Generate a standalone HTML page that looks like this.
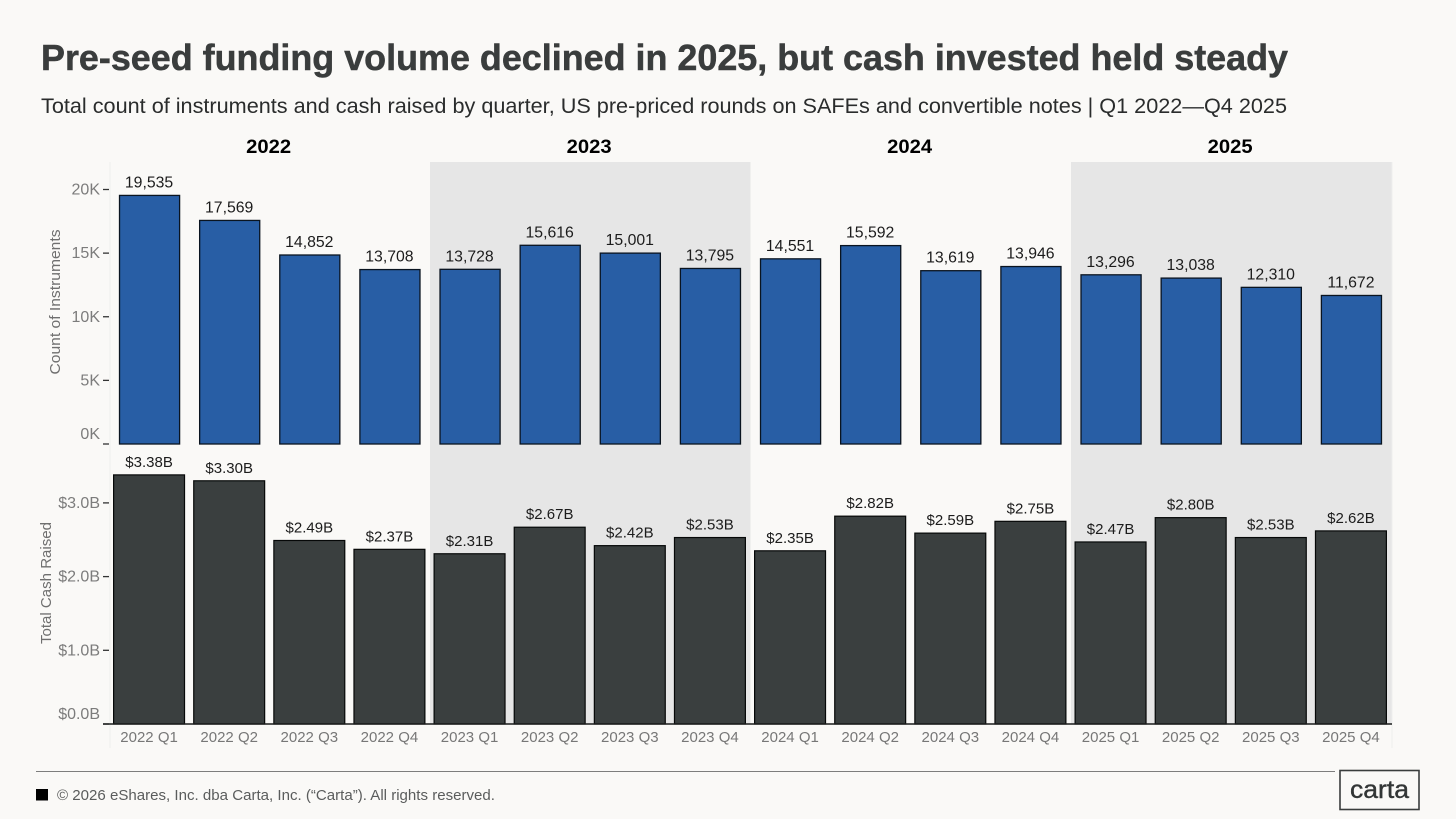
<!DOCTYPE html>
<html lang="en">
<head>
<meta charset="utf-8">
<title>Pre-seed funding volume</title>
<style>
html,body{margin:0;padding:0;background:#faf9f7;width:1456px;height:819px;overflow:hidden}
svg{display:block;font-family:"Liberation Sans",sans-serif}
</style>
</head>
<body>
<svg id="chart" width="1456" height="819" viewBox="0 0 1456 819" xmlns="http://www.w3.org/2000/svg">
<rect x="0" y="0" width="1456" height="819" fill="#faf9f7"/>
<text x="41" y="70" font-size="36" font-weight="700" fill="#3a3d3d" stroke="#3a3d3d" stroke-width="0.5" textLength="1247" lengthAdjust="spacingAndGlyphs">Pre-seed funding volume declined in 2025, but cash invested held steady</text>
<text x="41" y="113" font-size="21" fill="#2a2c2c" textLength="1246" lengthAdjust="spacingAndGlyphs">Total count of instruments and cash raised by quarter, US pre-priced rounds on SAFEs and convertible notes | Q1 2022—Q4 2025</text>
<g id="bands"></g>
<g id="frame"></g>
<g id="top-panel"></g>
<g id="bottom-panel"></g>
<text transform="translate(60,302) rotate(-90)" text-anchor="middle" font-size="15" fill="#6f6f6f" textLength="145" lengthAdjust="spacingAndGlyphs">Count of Instruments</text>
<text transform="translate(51,583) rotate(-90)" text-anchor="middle" font-size="15" fill="#6f6f6f" textLength="122" lengthAdjust="spacingAndGlyphs">Total Cash Raised</text>
<line x1="36" y1="771.5" x2="1335" y2="771.5" stroke="#7d7d7d" stroke-width="1"/>
<rect x="36" y="789" width="12" height="11.5" fill="#000"/>
<text x="57" y="800" font-size="15" fill="#5a5c5c" textLength="438" lengthAdjust="spacingAndGlyphs">© 2026 eShares, Inc. dba Carta, Inc. (“Carta”). All rights reserved.</text>
<rect x="1340" y="770.5" width="79" height="39" fill="#faf9f7" stroke="#3a3d3d" stroke-width="1.6"/>
<text x="1350" y="798" font-size="25" fill="#333636" stroke="#333636" stroke-width="0.4" textLength="59" lengthAdjust="spacingAndGlyphs">carta</text>
</svg>
<script>
const quarters = ["2022 Q1","2022 Q2","2022 Q3","2022 Q4","2023 Q1","2023 Q2","2023 Q3","2023 Q4","2024 Q1","2024 Q2","2024 Q3","2024 Q4","2025 Q1","2025 Q2","2025 Q3","2025 Q4"];
const years = ["2022","2023","2024","2025"];
const counts = [19535,17569,14852,13708,13728,15616,15001,13795,14551,15592,13619,13946,13296,13038,12310,11672];
const cash = [3.38,3.30,2.49,2.37,2.31,2.67,2.42,2.53,2.35,2.82,2.59,2.75,2.47,2.80,2.53,2.62];
const countTicks = [0,5000,10000,15000,20000];
const cashTicks = [0,1,2,3];

const NS = 'http://www.w3.org/2000/svg';
const plotLeft = 110, plotRight = 1392, shadeTop = 162, shadeBottom = 724, edgeBottom = 748;
const countBase = 444, cashBase = 724;
const band = (plotRight - plotLeft) / quarters.length;
const xBand = i => plotLeft + i * band;
const xCenter = i => xBand(i) + band / 2;
const yCount = v => countBase - v * (254.5 / 20000);
const yCash = v => cashBase - v * 73.7;

function make(tag, parent, attrs, txt) {
  const el = document.createElementNS(NS, tag);
  for (const k in attrs) el.setAttribute(k, attrs[k]);
  if (txt !== undefined) el.textContent = txt;
  parent.appendChild(el);
  return el;
}

const bands = document.getElementById('bands');
const frame = document.getElementById('frame');
const topP = document.getElementById('top-panel');
const botP = document.getElementById('bottom-panel');
const perYear = quarters.length / years.length;

years.forEach((y, i) => {
  const x0 = xBand(i * perYear);
  if (i % 2 === 1) {
    const shade = make('rect', bands, {x: x0 - 0.5, y: shadeTop, width: band * perYear, height: shadeBottom - shadeTop, fill: '#e6e6e6'});
    
    
  }
  const head = make('text', frame, {x: x0 + band * perYear / 2 - 1.6, y: 153, 'text-anchor': 'middle', 'font-size': 19.5, 'font-weight': 700, fill: '#000', textLength: 45, lengthAdjust: 'spacingAndGlyphs'}, y);
  
  
});

[plotLeft, plotRight].forEach((x, i) => {
  const edge = make('line', frame, {x1: x, x2: x, y1: shadeTop, y2: edgeBottom, stroke: '#efefed', 'stroke-width': 1});
  
  
});

counts.forEach((v, i) => {
  const w = band * 0.75;
  const bar = make('rect', topP, {x: xCenter(i) - 0.5 - w / 2, y: yCount(v), width: w, height: countBase - yCount(v), fill: '#285ea5', stroke: '#0a1420', 'stroke-width': 1.3});
  
  
  const lab = make('text', topP, {x: xCenter(i) - 1, y: yCount(v) - 8, 'text-anchor': 'middle', 'font-size': 15.8, fill: '#1c1c1c'}, v.toLocaleString('en-US'));
  
  
});

countTicks.forEach(v => {
  const y = yCount(v);
  const t = make('line', topP, {x1: plotLeft - 7, x2: plotLeft - 1, y1: y, y2: y, stroke: '#333', 'stroke-width': 1.3});
  
  
  const lab = make('text', topP, {x: plotLeft - 10, y: y + (v === 0 ? -5 : 5), 'text-anchor': 'end', 'font-size': 16, fill: '#7c7c7c'}, (v / 1000) + 'K');
  
  
});

cash.forEach((v, i) => {
  const w = band * 0.885;
  const bar = make('rect', botP, {x: xCenter(i) - 1 - w / 2, y: yCash(v), width: w, height: cashBase - yCash(v), fill: '#3a3f3f', stroke: '#060808', 'stroke-width': 1.2});
  
  
  const lab = make('text', botP, {x: xCenter(i) - 1, y: yCash(v) - 8, 'text-anchor': 'middle', 'font-size': 15, fill: '#1c1c1c'}, '$' + v.toFixed(2) + 'B');
  
  
  const q = make('text', botP, {x: xCenter(i) - 1, y: 742, 'text-anchor': 'middle', 'font-size': 15, fill: '#777'}, quarters[i]);
  
  
});

cashTicks.forEach(v => {
  const y = yCash(v);
  const t = make('line', botP, {x1: plotLeft - 7, x2: plotLeft - 1, y1: y, y2: y, stroke: '#333', 'stroke-width': 1.3});
  
  
  const lab = make('text', botP, {x: plotLeft - 10, y: y + (v === 0 ? -5 : 5), 'text-anchor': 'end', 'font-size': 16, fill: '#7c7c7c'}, '$' + v.toFixed(1) + 'B');
  
  
});

const baseline = make('line', botP, {x1: plotLeft - 7, x2: plotRight, y1: cashBase, y2: cashBase, stroke: '#1a1c1c', 'stroke-width': 1.6});


</script>
</body>
</html>
